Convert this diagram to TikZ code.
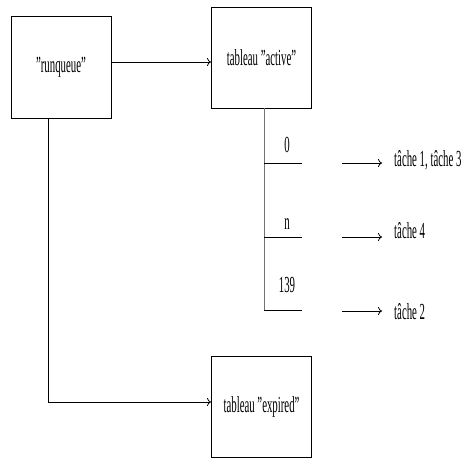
\documentclass[tikz,border=0pt]{standalone}
\usepackage{fontspec}
\setmainfont{Liberation Serif}
\usepackage{graphicx}
\usetikzlibrary{arrows.meta}
\newcommand{\cnd}[1]{\scalebox{0.47}[1]{#1}}
\newcommand{\qd}{\symbol{34}}
\tikzset{
  box/.style={draw, line width=0.8pt, minimum width=100pt, minimum height=101pt, inner sep=0pt, font=\fontsize{23}{23}\selectfont},
  lbl/.style={inner sep=0pt, font=\fontsize{23}{23}\selectfont},
  conn/.style={line width=0.8pt},
  arr/.style={line width=0.8pt, -{To[length=4pt,width=8pt]}},
}
\begin{document}
\begin{tikzpicture}[x=1pt,y=-1pt]
\useasboundingbox (0,0) rectangle (462,458);
\node[box, minimum height=102pt] (rq) at (61,67) {\cnd{\qd runqueue\qd}};
\node[box] (act) at (261.5,57.5) {\cnd{tableau \qd active\qd}};
\node[box] (exp) at (261.5,406.5) {\cnd{tableau \qd expired\qd}};
% runqueue -> active
\coordinate (a1) at (111,62);
\coordinate (a2) at (211,62);
\draw[arr] (a1) -- (a2);
% runqueue -> expired
\coordinate (r1) at (48,118);
\coordinate (r2) at (48,402);
\coordinate (r3) at (211,402);
\draw[conn] (r1) -- (r2);
\draw[arr] (r2) -- (r3);
% active spine
\coordinate (s0) at (264,108);
\coordinate (s1) at (264,163);
\coordinate (s2) at (264,237);
\coordinate (s3) at (264,310);
\coordinate (t1) at (302,163);
\coordinate (t2) at (302,237);
\coordinate (t3) at (302,310);
\draw[conn, black!55] (s0) -- (s3);
\draw[conn] (s1) -- (t1);
\draw[conn] (s2) -- (t2);
\draw[conn] (s3) -- (t3);
\node[lbl] (l0) at (287,145) {\cnd{0}};
\node[lbl] (ln) at (287,224) {\cnd{n}};
\node[lbl] (l139) at (287,285) {\cnd{139}};
% task arrows
\coordinate (b1) at (342,163);
\coordinate (c1) at (382,163);
\coordinate (b2) at (342,237);
\coordinate (c2) at (382,237);
\coordinate (b3) at (342,311);
\coordinate (c3) at (382,311);
\draw[arr] (b1) -- (c1);
\draw[arr] (b2) -- (c2);
\draw[arr] (b3) -- (c3);
\node[lbl, anchor=west] (k1) at (394,160) {\cnd{tâche 1, tâche 3}};
\node[lbl, anchor=west] (k2) at (394,231) {\cnd{tâche 4}};
\node[lbl, anchor=west] (k3) at (394,312) {\cnd{tâche 2}};
\end{tikzpicture}
\end{document}
